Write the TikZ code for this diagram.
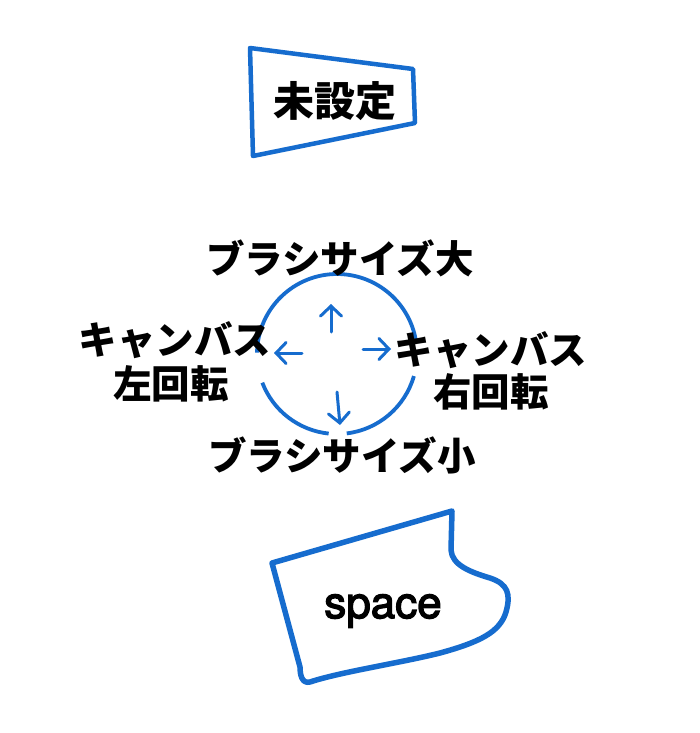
\documentclass[tikz,border=0pt]{standalone}
\usepackage{fontspec}
\usetikzlibrary{arrows.meta}
\newfontfamily\jp{Noto Sans CJK JP}
\newfontfamily\lat[FakeBold=3]{TeX Gyre Heros}
\definecolor{penblue}{RGB}{22,108,206}
\begin{document}
\begin{tikzpicture}[x=1pt,y=-1pt,
  lbl/.style={inner sep=0pt,font=\jp\bfseries\fontsize{38.5}{42}\selectfont,text=black,align=center},
  ttl/.style={inner sep=0pt,font=\jp\bfseries\fontsize{41}{44}\selectfont,text=black},
  pen/.style={draw=penblue,line width=4.5pt,line join=round,line cap=round},
  ring/.style={draw=penblue,line width=3.8pt},
  thin/.style={draw=penblue,line width=3pt,line cap=round,-{Straight Barb[length=10pt,width=21pt,line cap=round]}}]
\useasboundingbox (0,0) rectangle (700,733);
\fill[white] (0,0) rectangle (700,733);
% top box
\draw[pen] (250,48) -- (413,69) -- (415,123) -- (253,156) -- cycle;
\node[ttl] (unset) at (335,101) {未設定};
% circle
\coordinate (c) at (337,354);
\draw[ring] ([shift={(16:80)}]c) arc[start angle=16,end angle=83,radius=80];
\draw[ring] ([shift={(96:80)}]c) arc[start angle=96,end angle=159,radius=80];
\draw[ring] ([shift={(181:80)}]c) arc[start angle=181,end angle=351,radius=80];
% arrows
\coordinate (u1) at (331,332); \coordinate (u2) at (331,304);
\coordinate (l1) at (302,353); \coordinate (l2) at (274,353);
\coordinate (r1) at (363,349); \coordinate (r2) at (391,349);
\coordinate (d1) at (337,392); \coordinate (d2) at (340,425);
\draw[thin] (u1) -- (u2);
\draw[thin] (l1) -- (l2);
\draw[thin] (r1) -- (r2);
\draw[thin] (d1) -- (d2);
% labels
\node[lbl] (big) at (340,258) {ブラシサイズ大};
\node[lbl] (small) at (342,455) {ブラシサイズ小};
\node[lbl] (lc) at (175,340) {キャンバス};
\node[lbl] (lr) at (171,384) {左回転};
\node[lbl] (rc) at (491,350) {キャンバス};
\node[lbl] (rr) at (491,392) {右回転};
% bottom shape
\draw[pen,line width=5.5pt] (272,563) -- (452,511) -- (451,550)
  .. controls (452,565) and (470,572) .. (490,578)
  .. controls (508,584) and (511,594) .. (506,612)
  .. controls (500,632) and (480,642) .. (440,653)
  .. controls (400,663) and (340,672) .. (310,682)
  .. controls (302,684) and (300,675) .. (300,667)
  -- cycle;
\node[inner sep=0pt,font=\lat\fontsize{44}{48}\selectfont] (space) at (383,611) {space};
\end{tikzpicture}
\end{document}
